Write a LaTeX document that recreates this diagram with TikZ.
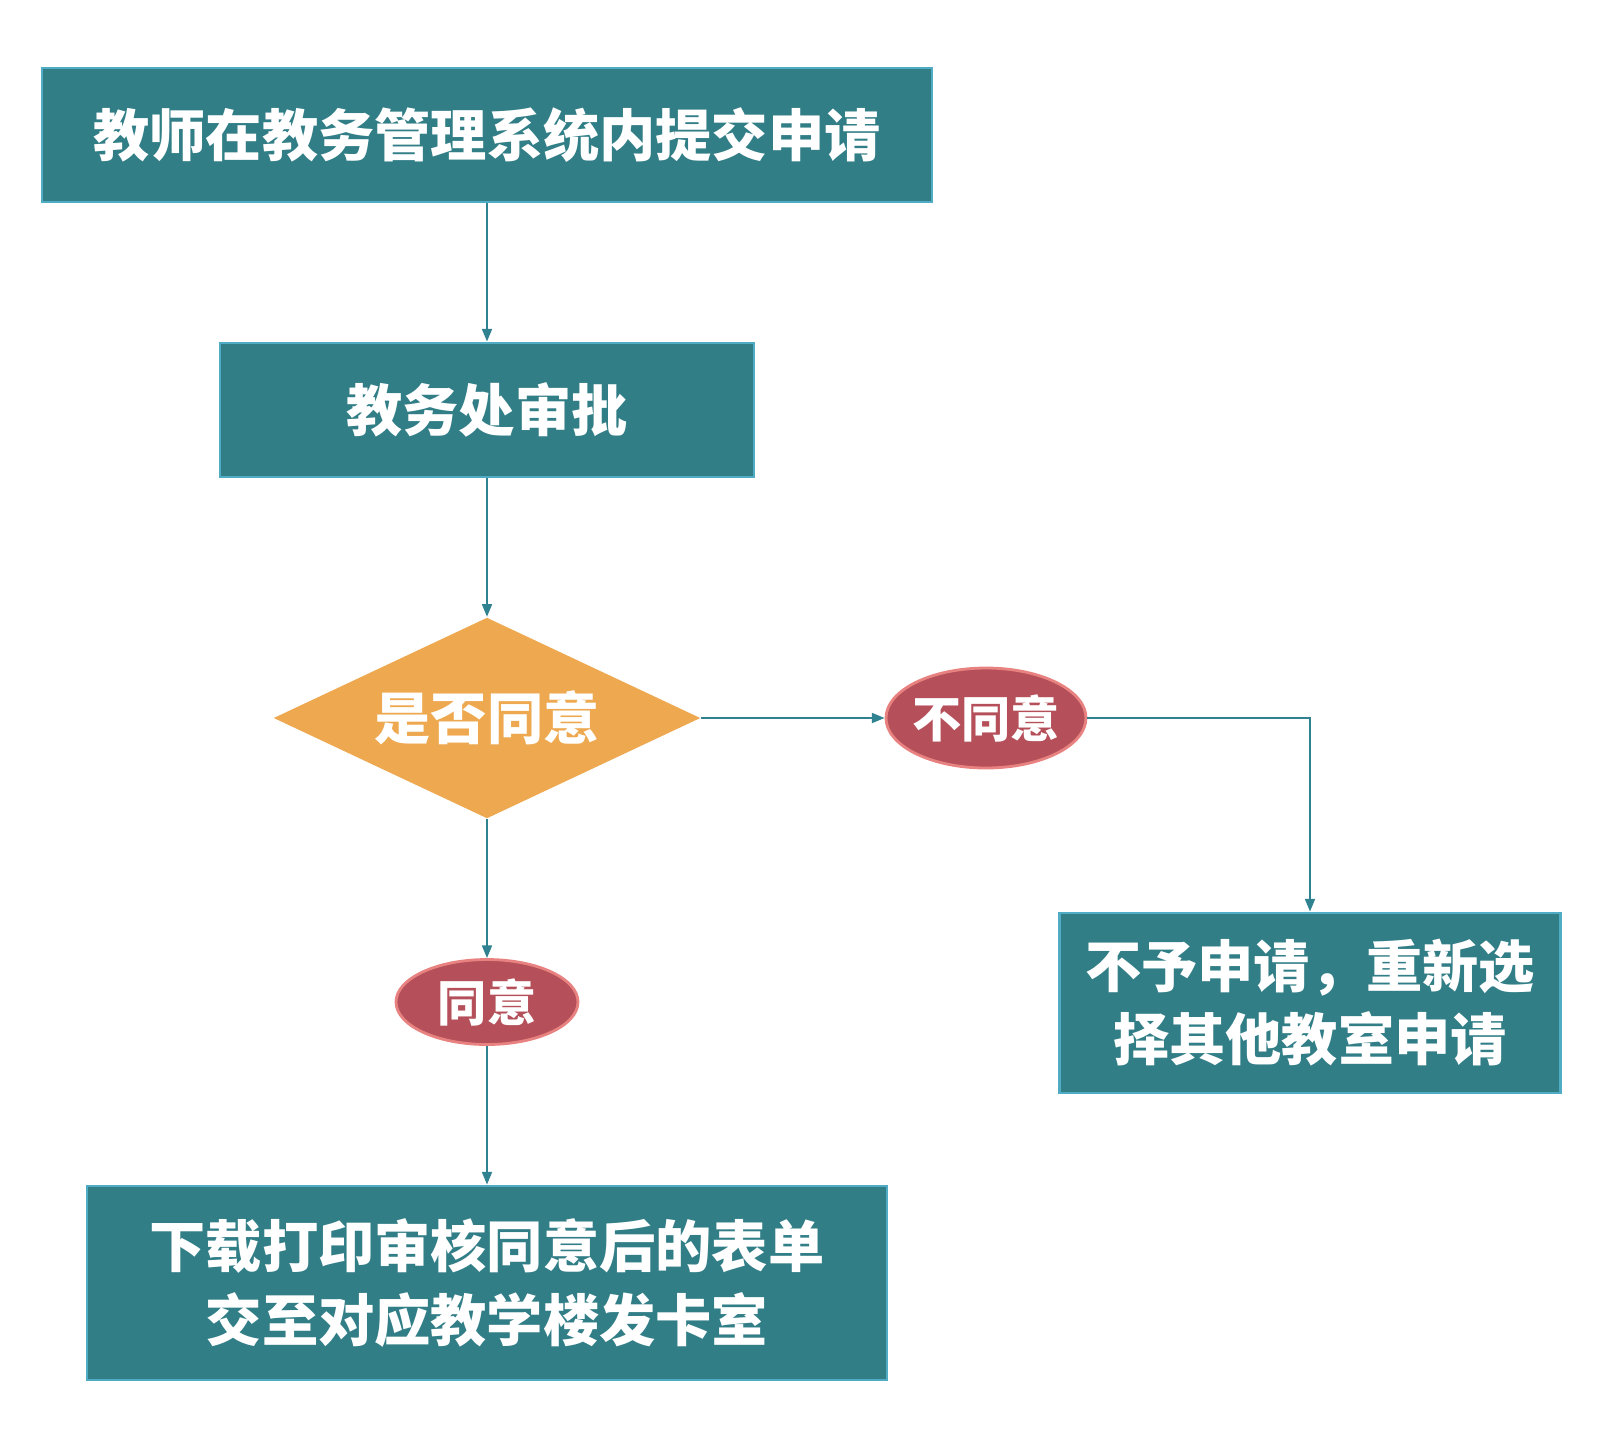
\documentclass[tikz,border=0pt]{standalone}
\usepackage{fontspec}
\usepackage{tikz}
\usetikzlibrary{arrows.meta, positioning, shapes.geometric}
\newfontfamily\cjk{Noto Sans CJK SC}
\definecolor{jwTeal}{RGB}{49,126,135}
\definecolor{jwEdge}{RGB}{80,172,196}
\definecolor{jwLine}{RGB}{49,130,145}
\definecolor{jwOrange}{RGB}{238,169,80}
\definecolor{jwRed}{RGB}{181,80,90}
\definecolor{jwPink}{RGB}{232,130,128}

\begin{document}
\begin{tikzpicture}[
    x=0.1mm, y=-0.1mm,
    font=\cjk\bfseries\fontsize{16}{20.8}\selectfont,
    stepbox/.style={draw=jwEdge, line width=0.8pt, fill=jwTeal, text=white,
                    align=center, inner sep=0pt},
    ask/.style={diamond, fill=jwOrange, text=white, aspect=2.12,
                minimum width=42.7mm, minimum height=20.1mm, inner sep=0pt},
    verdict/.style={ellipse, draw=jwPink, line width=0.8pt, fill=jwRed, text=white,
                    font=\cjk\bfseries\fontsize{14}{16}\selectfont, inner sep=-3pt},
    flow/.style={draw=jwLine, line width=0.6pt,
                 -{Triangle[length=3.6pt, width=2.8pt]}}
]
\useasboundingbox[fill=white] (0,0) rectangle (1600,1441);

% Steps
\node[stepbox, minimum width=89mm, minimum height=13.4mm] (submit) at (487,135)
     {教师在教务管理系统内提交申请};
\node[stepbox, minimum width=53.4mm, minimum height=13.4mm] (review) at (487,410)
     {教务处审批};
\node[ask] (decide) at (487,718) {是否同意};

% Outcomes
\node[verdict, minimum width=20mm, minimum height=10mm] (refuse) at (986,718) {不同意};
\node[verdict, minimum width=18.2mm, minimum height=8.5mm] (agree) at (487,1002) {同意};
\node[stepbox, minimum width=50.1mm, minimum height=18mm] (retry) at (1310,1003)
     {不予申请，重新选\\择其他教室申请};
\node[stepbox, minimum width=80mm, minimum height=19.4mm] (print) at (487,1283)
     {下载打印审核同意后的表单\\交至对应教学楼发卡室};

% Connectors
\draw[flow] (submit) -- (review);
\draw[flow] (review) -- (decide);
\draw[flow] (decide) -- (refuse);
\draw[flow] (refuse) -| (retry);
\draw[flow] (decide) -- (agree);
\draw[flow] (agree) -- (print);
\end{tikzpicture}
\end{document}
